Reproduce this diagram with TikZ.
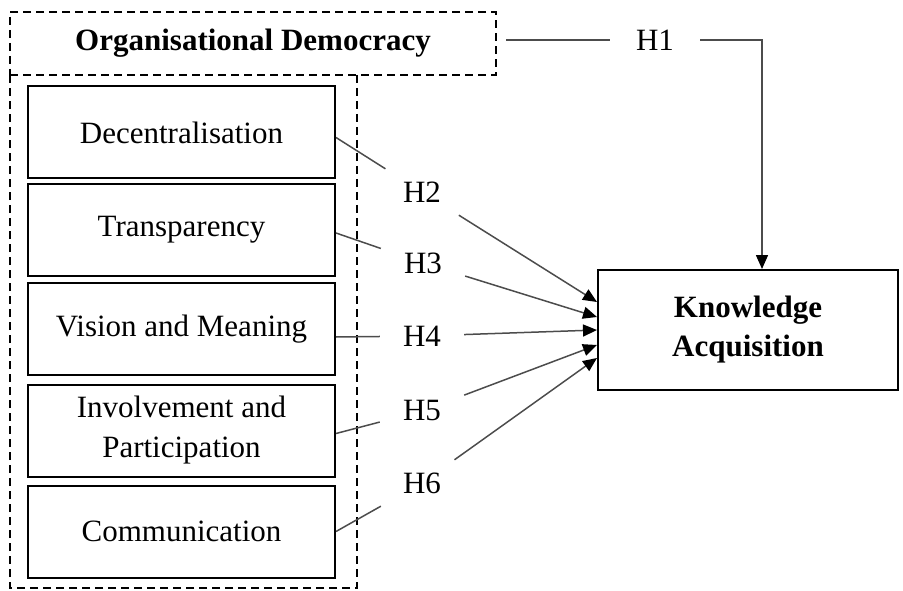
\documentclass[tikz,border=0pt]{standalone}
\usepackage{fontspec}
\setmainfont{Liberation Serif}
\usetikzlibrary{arrows.meta}
\begin{document}
\begin{tikzpicture}[x=1pt,y=-1pt,
  dashbox/.style={draw, line width=2pt, dash pattern=on 8pt off 5pt},
  box/.style={draw, line width=2pt, minimum width=307pt, minimum height=92pt, inner sep=0pt,
    font=\fontsize{31}{40}\selectfont, align=center},
  hyp/.style={minimum width=84pt, minimum height=46pt, inner sep=0pt, font=\fontsize{31}{36}\selectfont},
  conn/.style={draw=black!70, line width=1.5pt},
  arr/.style={conn, -{Triangle[length=14pt,width=12pt,color=black]}}]
\useasboundingbox (0,0) rectangle (903,591);

% Organisational Democracy block
\node[dashbox, minimum width=486pt, minimum height=63pt, inner sep=0pt,
  font=\fontsize{31}{36}\selectfont\bfseries] (od) at (253,43.5) {Organisational Democracy};
\draw[dashbox] (357,75) -- (357,588) -- (10,588) -- (10,75);

% dimensions
\node[box] (dec) at (181.5,132.5) {Decentralisation};
\node[box] (tra) at (181.5,230) {Transparency};
\node[box] (vis) at (181.5,329) {Vision and Meaning};
\node[box] (inv) at (181.5,430.5) {Involvement and\\Participation};
\node[box] (com) at (181.5,531.5) {Communication};

% outcome
\node[draw, line width=2pt, minimum width=300pt, minimum height=120pt, inner sep=0pt, align=center,
  font=\fontsize{31}{39}\selectfont\bfseries] (ka) at (748,330) {Knowledge\\Acquisition};

% hypotheses
\node[hyp, minimum width=90pt] (h1) at (655,40) {H1};
\node[hyp] (h2) at (422,192) {H2};
\node[hyp] (h3) at (423,263) {H3};
\node[hyp] (h4) at (422,336) {H4};
\node[hyp] (h5) at (422,411) {H5};
\node[hyp] (h6) at (422,483) {H6};

% connectors
\draw[conn] ([yshift=3.5pt,xshift=9pt]od.east) -- (h1);
\draw[arr] (h1) -| ([xshift=14pt]ka.north);

\draw[conn] ([yshift=-5pt]dec.east) -- (h2);
\draw[conn] ([yshift=-3pt]tra.east) -- (h3);
\draw[conn] ([yshift=-8pt]vis.east) -- (h4);
\draw[conn] ([yshift=-3pt]inv.east) -- (h5);
\draw[conn] (com.east) -- (h6);

\draw[arr] (h2) -- ([yshift=28pt]ka.west);
\draw[arr] (h3) -- ([yshift=13pt]ka.west);
\draw[arr] (h4) -- (ka.west);
\draw[arr] (h5) -- ([yshift=-15pt]ka.west);
\draw[arr] (h6) -- ([yshift=-28pt]ka.west);
\end{tikzpicture}
\end{document}
